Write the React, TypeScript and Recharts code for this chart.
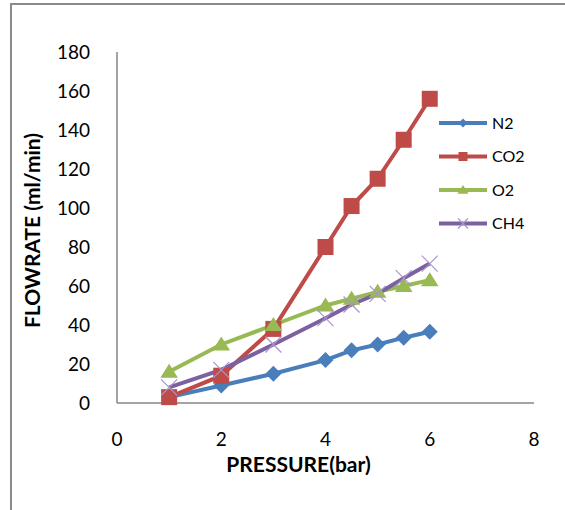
import React from 'react';
import { LineChart, Line, XAxis, YAxis, Legend, Label } from 'recharts';

const pressure = [1, 2, 3, 4, 4.5, 5, 5.5, 6];
const n2 = [3, 9, 15, 22, 27, 30, 33.5, 36.5];
const co2 = [3, 14, 38, 80, 101, 115, 135, 156];
const o2 = [16, 30, 40, 50, 53.5, 57, 60, 63];
const ch4 = [8, 17, 30, 43.5, 50.5, 56, 64, 71.5];
const xTicks = [0, 2, 4, 6, 8];
const yTicks = [0, 20, 40, 60, 80, 100, 120, 140, 160, 180];

const data = pressure.map((p, i) => ({ p, N2: n2[i], CO2: co2[i], O2: o2[i], CH4: ch4[i] }));

const FONT = 'Lato, "Open Sans", sans-serif';
const C_N2 = '#4A7EBB';
const C_CO2 = '#BE4B48';
const C_O2 = '#98B954';
const C_CH4 = '#7D60A0';

const diamond = (cx: number, cy: number, r: number, fill: string, key?: string) => (
  <path key={key} d={`M${cx},${cy - r}L${cx + r},${cy}L${cx},${cy + r}L${cx - r},${cy}Z`} fill={fill} />
);
const square = (cx: number, cy: number, r: number, fill: string, key?: string) => (
  <rect key={key} x={cx - r} y={cy - r} width={2 * r} height={2 * r} fill={fill} />
);
const triangle = (cx: number, cy: number, r: number, fill: string, key?: string) => (
  <path key={key} d={`M${cx},${cy - r}L${cx + r * 1.1},${cy + r * 0.75}L${cx - r * 1.1},${cy + r * 0.75}Z`} fill={fill} />
);
const cross = (cx: number, cy: number, r: number, stroke: string, key?: string) => (
  <path key={key} d={`M${cx - r},${cy - r}L${cx + r},${cy + r}M${cx - r},${cy + r}L${cx + r},${cy - r}`} stroke={stroke} strokeWidth={1.2} fill="none" />
);

const dotN2 = (p: any) => diamond(p.cx, p.cy, 8, C_N2, `n2-${p.index}`);
const dotCO2 = (p: any) => square(p.cx, p.cy, 8, C_CO2, `co2-${p.index}`);
const dotO2 = (p: any) => triangle(p.cx, p.cy, 8, C_O2, `o2-${p.index}`);
const dotCH4 = (p: any) => cross(p.cx, p.cy, 8, '#A894CC', `ch4-${p.index}`);

const legendItems = [
  { name: 'N2', color: C_N2, m: 'd' },
  { name: 'CO2', color: C_CO2, m: 's' },
  { name: 'O2', color: C_O2, m: 't' },
  { name: 'CH4', color: C_CH4, m: 'x' },
];

const LegendContent = () => (
  <svg width={110} height={140}>
    {legendItems.map((it, i) => {
      const y = 13 + i * 33.5;
      const cx = 28;
      return (
        <g key={it.name}>
          <line x1={4} x2={52} y1={y} y2={y} stroke={it.color} strokeWidth={4} />
          {it.m === 'd' && diamond(cx, y, 4.5, it.color)}
          {it.m === 's' && square(cx, y, 4.5, it.color)}
          {it.m === 't' && triangle(cx, y, 5, it.color)}
          {it.m === 'x' && cross(cx, y, 5, '#A894CC')}
          <text x={57} y={y} dy="0.35em" fontFamily={FONT} fontSize={16} fill="#000">{it.name}</text>
        </g>
      );
    })}
  </svg>
);

export default function App() {
  return (
    <div style={{ position: 'absolute', left: 0, top: 0, width: 565, height: 510, overflow: 'hidden', background: '#fff' }}>
      <div style={{ position: 'absolute', left: 10, top: 3, width: 700, height: 700, border: '2px solid #8a8a8a', boxSizing: 'border-box' }} />
      <div style={{ position: 'absolute', left: 0, top: 0 }}>
        <LineChart width={565} height={510} data={data} margin={{ top: 52, right: 31, bottom: 37, left: 0 }}>
          <XAxis
            dataKey="p"
            type="number"
            domain={[0, 8]}
            ticks={xTicks}
            tickLine={false}
            tickSize={0}
            tickMargin={30}
            height={70}
            axisLine={{ stroke: '#868686', strokeWidth: 1.5 }}
            tick={{ fill: '#000', fontSize: 19, fontFamily: FONT }}
            interval={0}
          >
            <Label
              content={(props: any) => {
                const vb = props.viewBox;
                return (
                  <text x={vb.x + vb.width / 2 - 27} y={vb.y + 69} textAnchor="middle" fontFamily={FONT} fontWeight="bold" fontSize={21} fill="#000">
                    PRESSURE(bar)
                  </text>
                );
              }}
            />
          </XAxis>
          <YAxis
            type="number"
            domain={[0, 180]}
            ticks={yTicks}
            tickLine={false}
            tickSize={0}
            tickMargin={27}
            width={117}
            axisLine={{ stroke: '#868686', strokeWidth: 1.5 }}
            tick={{ fill: '#000', fontSize: 19, fontFamily: FONT }}
            interval={0}
          >
            <Label
              content={(props: any) => {
                const vb = props.viewBox;
                const cy = vb.y + vb.height / 2 + 3;
                return (
                  <text x={40} y={cy} transform={`rotate(-90, 40, ${cy})`} textAnchor="middle" fontFamily={FONT} fontWeight="bold" fontSize={21} fill="#000">
                    FLOWRATE (ml/min)
                  </text>
                );
              }}
            />
          </YAxis>
          <Legend
            layout="horizontal"
            verticalAlign="middle"
            align="center"
            content={<LegendContent />}
            wrapperStyle={{ position: 'absolute', left: 435, top: 110, width: 110, height: 140 }}
          />
          <Line dataKey="N2" stroke={C_N2} strokeWidth={4} dot={dotN2} isAnimationActive={false} />
          <Line dataKey="CO2" stroke={C_CO2} strokeWidth={4} dot={dotCO2} isAnimationActive={false} />
          <Line dataKey="O2" stroke={C_O2} strokeWidth={4} dot={dotO2} isAnimationActive={false} />
          <Line dataKey="CH4" stroke={C_CH4} strokeWidth={4} dot={dotCH4} isAnimationActive={false} />
        </LineChart>
      </div>
    </div>
  );
}
